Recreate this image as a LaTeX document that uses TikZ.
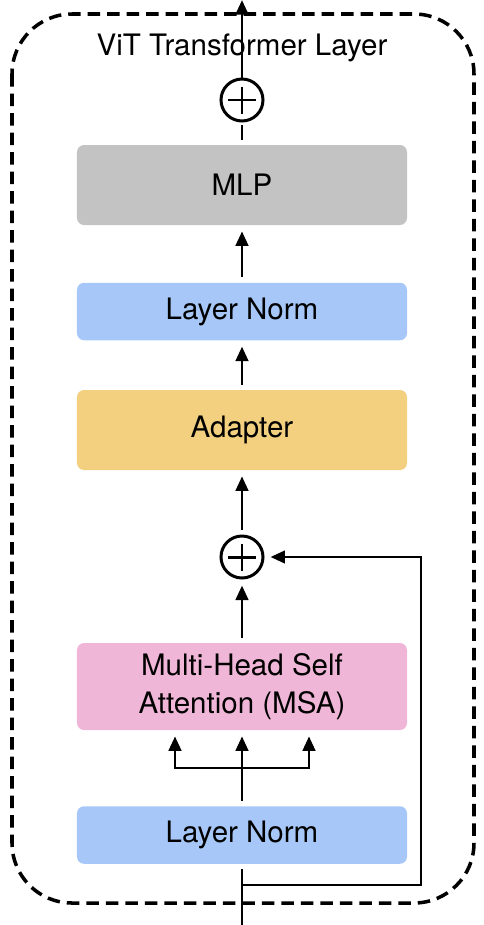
\documentclass[tikz,border=0pt]{standalone}
\usepackage{fontspec}
\setmainfont{TeX Gyre Heros}
\usetikzlibrary{arrows.meta,positioning}
\definecolor{mlpgray}{RGB}{195,195,195}
\definecolor{normblue}{RGB}{166,199,247}
\definecolor{adaptgold}{RGB}{242,208,128}
\definecolor{msapink}{RGB}{240,182,216}
\newcommand\labelfont{\fontsize{16.8}{21.5}\selectfont}
\tikzset{
  >={Triangle[length=2.9mm,width=2.5mm]},
  box/.style={fill=#1,rounded corners=4pt,minimum width=66mm,minimum height=11.5mm,
    align=center,font=\labelfont,inner sep=0pt},
  box/.default=normblue,
  flow/.style={->,line width=1.6pt,shorten >=1.2mm,shorten <=1mm},
  link/.style={line width=1.6pt,shorten <=1mm,shorten >=0.5mm},
  add/.style={circle,draw,line width=1.7pt,minimum size=8.4mm,inner sep=0pt,
    path picture={\draw[line width=1.7pt]
      ([xshift=-2.7mm]path picture bounding box.center) -- ++(5.4mm,0)
      ([yshift=-2.7mm]path picture bounding box.center) -- ++(0,5.4mm);}},
}
\begin{document}
\begin{tikzpicture}
    \useasboundingbox (-4.84,0) rectangle (4.84,-18.5);
    \draw[line width=2pt,dash pattern=on 2.5mm off 1.4mm,rounded corners=1.2cm] (-4.6,-0.28) rectangle (4.64,-18.06);
    \node[font=\labelfont,anchor=base] (title) at (0,-1.1) {ViT Transformer Layer};
    \node[add] (addtop) at (0,-2.0) {};
    \node[box=mlpgray,minimum height=16mm] (mlp) at (0,-3.7) {MLP};
    \node[box] (normtop) at (0,-6.23) {Layer Norm};
    \node[box=adaptgold,minimum height=16mm] (adapter) at (0,-8.6) {Adapter};
    \node[add] (addmid) at (0,-11.14) {};
    \node[box=msapink,minimum height=17.4mm] (msa) at (0,-13.73) {Multi-Head Self\\Attention (MSA)};
    \node[box] (normbot) at (0,-16.7) {Layer Norm};
    \coordinate (out) at (0,0);
    \coordinate (in) at (0,-18.5);
    \coordinate (fork) at (0,-15.36);
    \coordinate (split) at (0,-17.7);
    \coordinate (skip) at (3.58,-17.7);
    % main path
    \draw[flow,shorten <=0pt,shorten >=0pt] (addtop) -- (out);
    \draw[link] (mlp) -- (addtop);
    \draw[flow] (normtop) -- (mlp);
    \draw[flow] (adapter) -- (normtop);
    \draw[flow] (addmid) -- (adapter);
    \draw[flow] (msa) -- (addmid);
    \draw[link,shorten >=0pt] (normbot) -- (fork);
    \foreach \dx in {-1.34,0,1.34}
      \draw[flow,shorten <=0pt] (fork) -| ([xshift=\dx cm]msa.south);
    \draw[line width=1.6pt,shorten >=1mm] (in) -- (normbot);
    % residual
    \draw[flow,shorten <=0pt] (split) -- (skip) |- (addmid);
  \end{tikzpicture}
\end{document}
